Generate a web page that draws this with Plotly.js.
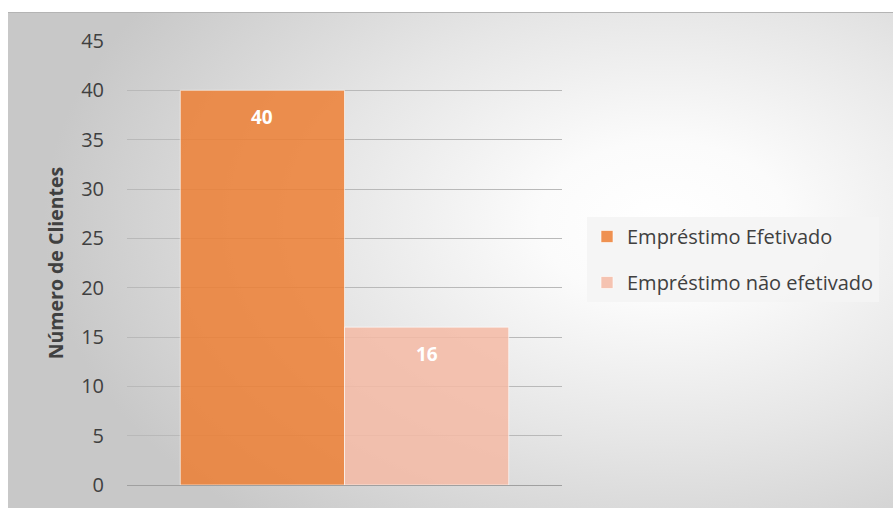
<!DOCTYPE html>
<html>
<head>
<meta charset="utf-8">
<script src="https://cdn.plot.ly/plotly-3.0.1.min.js"></script>
<style>
html,body{margin:0;padding:0;background:#fff;}
#wrap{position:relative;width:893px;height:508px;overflow:hidden;}
#bg{position:absolute;left:8px;top:12px;width:885px;height:496px;
  border-top:1px solid #b4b4b4;
  background:radial-gradient(ellipse 70% 80% at 74% 42%, #ffffff 0%, #fbfbfb 20%, #e6e6e6 55%, #c8c8c8 100%);}
#chart{position:absolute;left:0;top:0;width:893px;height:508px;}
</style>
</head>
<body>
<div id="wrap"><div id="bg"></div><div id="chart"></div></div>
<script>
const categories = [""];
const seriesNames = ["Empréstimo Efetivado", "Empréstimo não efetivado"];
const efetivado = [40];
const naoEfetivado = [16];
const yTicks = [0, 5, 10, 15, 20, 25, 30, 35, 40, 45];

const FONT = "'Open Sans', sans-serif";
const bargap = 0.245;
const barW = (1 - bargap) / 2;

const traces = [
  {type: "bar", name: seriesNames[0], x: categories, y: efetivado, legendgroup: "a",
   marker: {color: "rgba(237,125,49,0.84)", line: {color: "rgba(255,255,255,0.6)", width: 1}},
   hoverinfo: "none"},
  {type: "bar", name: seriesNames[1], x: categories, y: naoEfetivado, legendgroup: "b",
   marker: {color: "rgba(244,186,164,0.85)", line: {color: "rgba(255,255,255,0.6)", width: 1}},
   hoverinfo: "none"}
];

const series = [efetivado, naoEfetivado];
const annotations = series.map((vals, i) => ({
  x: (i === 0 ? -1 : 1) * barW / 2, xref: "x", y: vals[0], yref: "y",
  text: "<b>" + vals[0] + "</b>", showarrow: false, yanchor: "top", yshift: -12,
  font: {family: FONT, size: 19, color: "#ffffff"}
}));

const layout = {
  width: 893, height: 508,
  margin: {l: 127, r: 331, t: 41, b: 23},
  paper_bgcolor: "rgba(0,0,0,0)", plot_bgcolor: "rgba(0,0,0,0)",
  barmode: "group", bargap: bargap, bargroupgap: 0,
  showlegend: true,
  legend: {
    xref: "container", yref: "container", x: 587/893, y: 1 - 217/508,
    xanchor: "left", yanchor: "top",
    bgcolor: "rgba(244,244,244,0.9)", borderwidth: 0,
    font: {family: FONT, size: 20, color: "#404040"},
    traceorder: "grouped", tracegroupgap: 17, itemwidth: 30,
    itemclick: false, itemdoubleclick: false
  },
  xaxis: {type: "category", range: [-0.5, 0.5], showticklabels: false, showgrid: false,
          zeroline: false, showline: false, ticks: "", fixedrange: true},
  yaxis: {range: [0, 45], tickvals: yTicks, ticktext: yTicks.map(String),
          showgrid: true, gridcolor: "#b9b9b9", gridwidth: 1,
          zeroline: true, zerolinecolor: "#a0a0a0", zerolinewidth: 1,
          showline: false, ticks: "", ticklabelstandoff: 22,
          tickfont: {family: FONT, size: 20, color: "#404040"},
          title: {text: "<b>Número de Clientes</b>", standoff: 12,
                  font: {family: FONT, size: 19.5, color: "#404040"}},
          automargin: false, fixedrange: true},
  annotations: annotations,
  font: {family: FONT}
};

Plotly.newPlot("chart", traces, layout, {displayModeBar: false, staticPlot: true});
</script>
</body>
</html>
